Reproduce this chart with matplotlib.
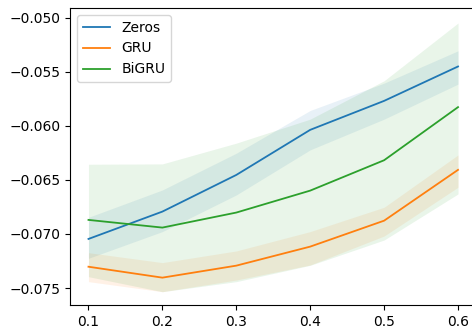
import numpy
import matplotlib
matplotlib.use('Agg')
import matplotlib.pyplot as plt

plt.rcParams['font.size'] = 10

x = [0.1, 0.2, 0.3, 0.4, 0.5, 0.6]

# mean score per run, with the lower/upper edge of the spread
zeros_mean = [-0.07046, -0.06793, -0.06454, -0.06037, -0.05769, -0.05451]
zeros_lo = [-0.07225, -0.06978, -0.06639, -0.06222, -0.05938, -0.05614]
zeros_hi = [-0.06846, -0.06593, -0.06253, -0.05858, -0.05605, -0.05306]

gru_mean = [-0.07303, -0.07404, -0.07293, -0.07117, -0.06877, -0.06407]
gru_lo = [-0.07441, -0.07534, -0.07426, -0.07287, -0.07019, -0.06568]
gru_hi = [-0.07173, -0.07265, -0.07157, -0.06978, -0.06753, -0.06269]

bigru_mean = [-0.06870, -0.06941, -0.06802, -0.06599, -0.06318, -0.05827]
bigru_lo = [-0.07395, -0.07534, -0.07441, -0.07290, -0.07056, -0.06630]
bigru_hi = [-0.06355, -0.06352, -0.06160, -0.05938, -0.05583, -0.05049]

series = [
    ('Zeros', zeros_mean, zeros_lo, zeros_hi, 'tab:blue'),
    ('GRU', gru_mean, gru_lo, gru_hi, 'tab:orange'),
    ('BiGRU', bigru_mean, bigru_lo, bigru_hi, 'tab:green'),
]

######################################################################

fig = plt.figure(figsize=(4.72, 3.27), dpi=100)
ax = fig.add_axes([70/472, 22/327, 406.5/472, 297/327])

for label, mean, lo, hi, color in series:
    ax.plot(x, mean, color=color, linewidth=1.3, label=label)
    ax.fill_between(x, lo, hi, color=color, alpha=0.1, linewidth=0)

ax.set_xlim(0.075, 0.625)
ax.set_ylim(-0.07657, -0.04910)
ax.set_xticks(x)
ax.set_yticks(numpy.arange(-0.075, -0.0499, 0.005))

ax.legend(loc='upper left')

fig.savefig('out.png', dpi=100)
